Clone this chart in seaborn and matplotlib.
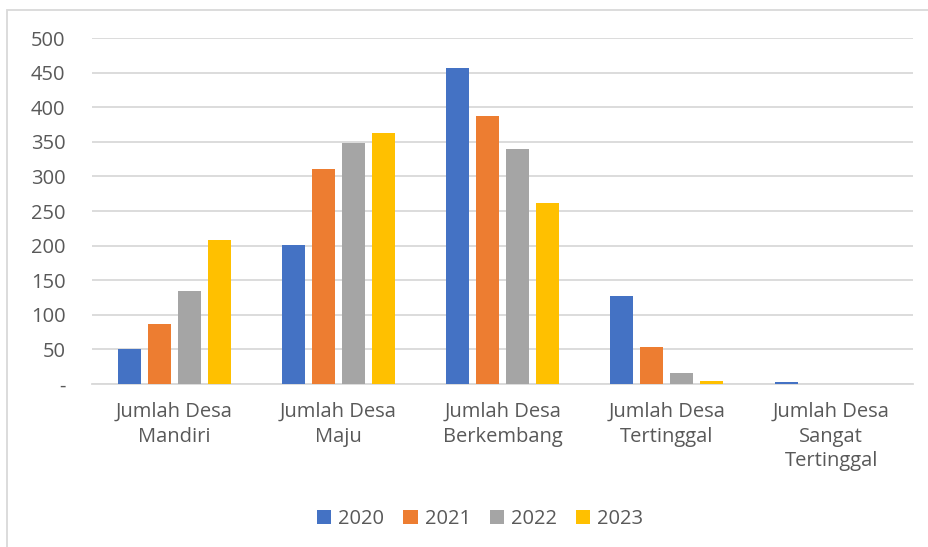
import matplotlib
matplotlib.use("Agg")
import matplotlib.pyplot as plt
import seaborn as sns
import pandas as pd
from matplotlib.patches import Rectangle

categories = ["Jumlah Desa\nMandiri", "Jumlah Desa\nMaju", "Jumlah Desa\nBerkembang",
              "Jumlah Desa\nTertinggal", "Jumlah Desa\nSangat\nTertinggal"]
years = ["2020", "2021", "2022", "2023"]
v2020 = [50, 201, 456, 127, 3]
v2021 = [86, 311, 387, 53, 0]
v2022 = [135, 348, 339, 16, 0]
v2023 = [208, 363, 262, 4, 0]
yticks = [0, 50, 100, 150, 200, 250, 300, 350, 400, 450, 500]
ytick_labels = ["-", "50", "100", "150", "200", "250", "300", "350", "400", "450", "500"]
colors = ["#4472C4", "#ED7D31", "#A5A5A5", "#FFC000"]

rows = []
for yr, vals in zip(years, [v2020, v2021, v2022, v2023]):
    for cat, v in zip(categories, vals):
        rows.append({"Kategori": cat, "Tahun": yr, "Jumlah": v})
df = pd.DataFrame(rows)

sns.set_theme(style="white")
plt.rcParams["font.family"] = ["Open Sans", "DejaVu Sans"]

fig = plt.figure(figsize=(9.29, 5.47), dpi=100)
ax = fig.add_axes([0.099, 0.298, 0.884, 0.6325])

sns.barplot(data=df, x="Kategori", y="Jumlah", hue="Tahun", order=categories,
            hue_order=years, palette=colors, width=0.73, gap=0.23,
            saturation=1, linewidth=0, ax=ax, legend=True)
for p in ax.patches:
    p.set_zorder(3)

ax.set_ylim(0, 500)
ax.set_xlim(-0.5, 4.5)
ax.set_yticks(yticks)
ax.set_yticklabels(ytick_labels)
ax.yaxis.grid(True, color="#D9D9D9", linewidth=1.3)
ax.set_axisbelow(True)
for s in ["top", "right", "left"]:
    ax.spines[s].set_visible(False)
ax.spines["bottom"].set_color("#D9D9D9")
ax.spines["bottom"].set_linewidth(1.3)
ax.spines["bottom"].set_zorder(1)
ax.set_xlabel("")
ax.set_ylabel("")
ax.tick_params(axis="y", length=0, pad=19, labelsize=14.5, labelcolor="#595959")
ax.tick_params(axis="x", length=0, pad=13, labelsize=14.5, labelcolor="#595959")
for lbl in ax.get_xticklabels():
    lbl.set_linespacing(1.3)
    lbl.set_verticalalignment("top")

ax.legend_.remove()
handles, labels = ax.get_legend_handles_labels()
fig.legend(handles, labels, loc="center", bbox_to_anchor=(0.517, 0.051), ncol=4,
           frameon=False, fontsize=14.5, handlelength=0.7, handleheight=0.7,
           handletextpad=0.35, columnspacing=0.95, labelcolor="#595959")

fig.patches.append(Rectangle((7 / 929, -0.01), 1.0, 1 - 10 / 547 + 0.01,
                             transform=fig.transFigure, fill=False,
                             edgecolor="#D9D9D9", linewidth=1.3))

fig.savefig("out.png", dpi=100, facecolor="white")
